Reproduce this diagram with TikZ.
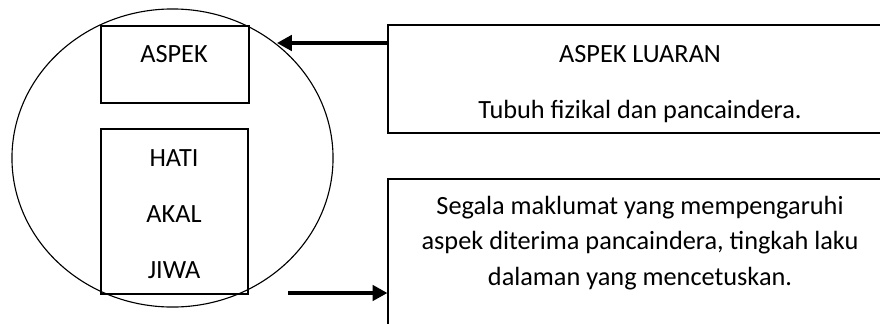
\documentclass[tikz,border=0pt]{standalone}
\usepackage{fontspec}
\setmainfont{Carlito}
\usetikzlibrary{positioning, shapes.geometric, arrows.meta}

\tikzset{
    kotak/.style={draw, line width=0.8pt, inner sep=0pt},
    teks/.style={inner sep=0pt, anchor=base, font=\fontsize{18.7}{25.2}\selectfont},
    panah/.style={line width=2.2pt, -{Triangle[length=10.5pt, width=11pt]}}
}

\begin{document}
\begin{tikzpicture}[x=0.025cm, y=-0.025cm]
    \useasboundingbox (0,0) rectangle (880,323);
    \clip (0,0) rectangle (880,323);

    % kiri: diri manusia
    \node[kotak, ellipse, minimum width=8.025cm, minimum height=7.45cm] (diri) at (172.5,158) {};
    \node[kotak, minimum width=3.7cm, minimum height=1.925cm] (aspekBox) at (175,64.5) {};
    \node[kotak, minimum width=3.675cm, minimum height=4.125cm] (dalamanBox) at (174.5,211.5) {};
    \node[teks] (aspek) at (174,62) {ASPEK};
    \node[teks] (hati) at (174,166) {HATI};
    \node[teks] (akal) at (174,222) {AKAL};
    \node[teks] (jiwa) at (174,278) {JIWA};

    % kanan
    \node[kotak, minimum width=12.6cm, minimum height=2.7cm] (luaran) at (640,79) {};
    \node[kotak, minimum width=12.6cm, minimum height=4.025cm] (maklumat) at (640,259.5) {};
    \node[teks] (luaranTajuk) at (640,62) {ASPEK LUARAN};
    \node[teks] (luaranIsi) at (640,118) {Tubuh fizikal dan pancaindera.};
    \node[teks, align=center] (maklumatIsi) at (640,285) {Segala maklumat yang mempengaruhi\\aspek diterima pancaindera, tingkah laku\\dalaman yang mencetuskan.};

    \coordinate (hujungA) at (277,43);
    \coordinate (pangkalB) at (288,293);
    \draw[panah] (hujungA -| luaran.west) -- (hujungA);
    \draw[panah] (pangkalB) -- (pangkalB -| maklumat.west);
\end{tikzpicture}
\end{document}
